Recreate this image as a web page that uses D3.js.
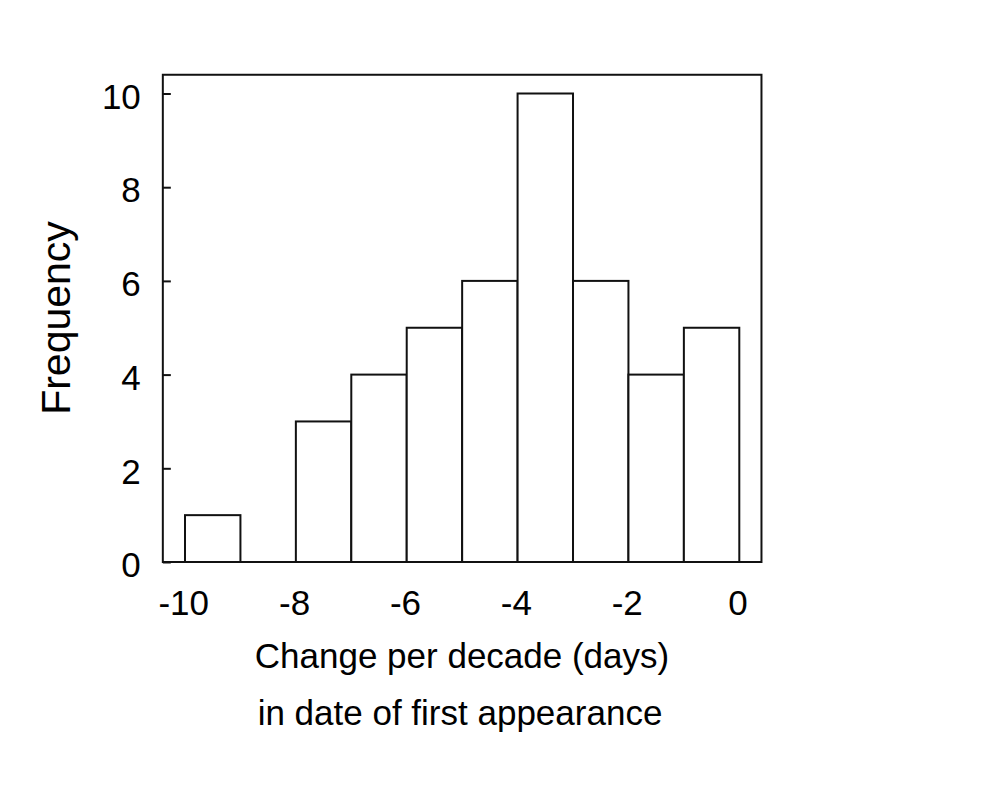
<!DOCTYPE html>
<html>
<head>
<meta charset="utf-8">
<script src="https://cdn.jsdelivr.net/npm/d3@7"></script>
<style>
  body { margin: 0; background: #fff; }
  svg { display: block; }
  text { font-family: "Liberation Sans", Arial, sans-serif; fill: #000; }
</style>
</head>
<body>
<script>
// histogram bins: [start, end) in days/decade, and counts
var binStarts = [-10, -9, -8, -7, -6, -5, -4, -3, -2, -1];
var binWidth = 1;
var counts = [1, 0, 3, 4, 5, 6, 10, 6, 4, 5];
var xTicks = [-10, -8, -6, -4, -2, 0];
var yTicks = [0, 2, 4, 6, 8, 10];

var width = 990, height = 791;

var x = d3.scaleLinear().domain([-10, 0]).range([185, 739.3]);
var y = d3.scaleLinear().domain([0, 10]).range([562, 93.5]);

// plain hyphen for negatives, like the original
var fmt = function(d) { return String(d); };

var svg = d3.select("body").append("svg")
  .attr("width", width)
  .attr("height", height);

var data = binStarts.map(function(s, i) { return {x0: s, x1: s + binWidth, n: counts[i]}; });

// bars
svg.selectAll(".bar")
  .data(data.filter(function(d) { return d.n > 0; }))
  .enter().append("rect")
  .attr("class", "bar")
  .attr("x", function(d) { return x(d.x0); })
  .attr("width", function(d) { return x(d.x1) - x(d.x0); })
  .attr("y", function(d) { return y(d.n); })
  .attr("height", function(d) { return y(0) - y(d.n); })
  .attr("fill", "#fff")
  .attr("stroke", "#111")
  .attr("stroke-width", 2);

// frame
var fx0 = x(-10.4), fx1 = x(0.4), fy0 = y(10.4), fy1 = y(0);
svg.append("rect")
  .attr("x", fx0).attr("y", fy0)
  .attr("width", fx1 - fx0).attr("height", fy1 - fy0)
  .attr("fill", "none")
  .attr("stroke", "#111")
  .attr("stroke-width", 2);

// y axis, ticks pointing in
var yAxis = svg.append("g")
  .attr("transform", "translate(" + fx0 + ",0)")
  .call(d3.axisLeft(y).tickValues(yTicks).tickFormat(fmt).tickSizeInner(-8).tickSizeOuter(0).tickPadding(22));
yAxis.select(".domain").remove();
yAxis.selectAll("line").attr("stroke", "#111").attr("stroke-width", 2);
yAxis.selectAll("text")
  .style("font-size", "35px")
  .attr("dy", "0.42em");

// x axis, labels only
var xAxis = svg.append("g")
  .attr("transform", "translate(0," + fy1 + ")")
  .call(d3.axisBottom(x).tickValues(xTicks).tickFormat(fmt).tickSize(0).tickPadding(28));
xAxis.select(".domain").remove();
xAxis.selectAll("text")
  .style("font-size", "35px")
  .attr("dy", "0.71em")
  .attr("dx", "-0.05em");

// axis titles
svg.append("text")
  .attr("x", 462).attr("y", 668)
  .attr("text-anchor", "middle")
  .style("font-size", "35px")
  .text("Change per decade (days)");

svg.append("text")
  .attr("x", 460).attr("y", 725)
  .attr("text-anchor", "middle")
  .style("font-size", "35px")
  .text("in date of first appearance");

svg.append("text")
  .attr("transform", "translate(70,318) rotate(-90)")
  .attr("text-anchor", "middle")
  .style("font-size", "41px")
  .text("Frequency");
</script>
</body>
</html>
